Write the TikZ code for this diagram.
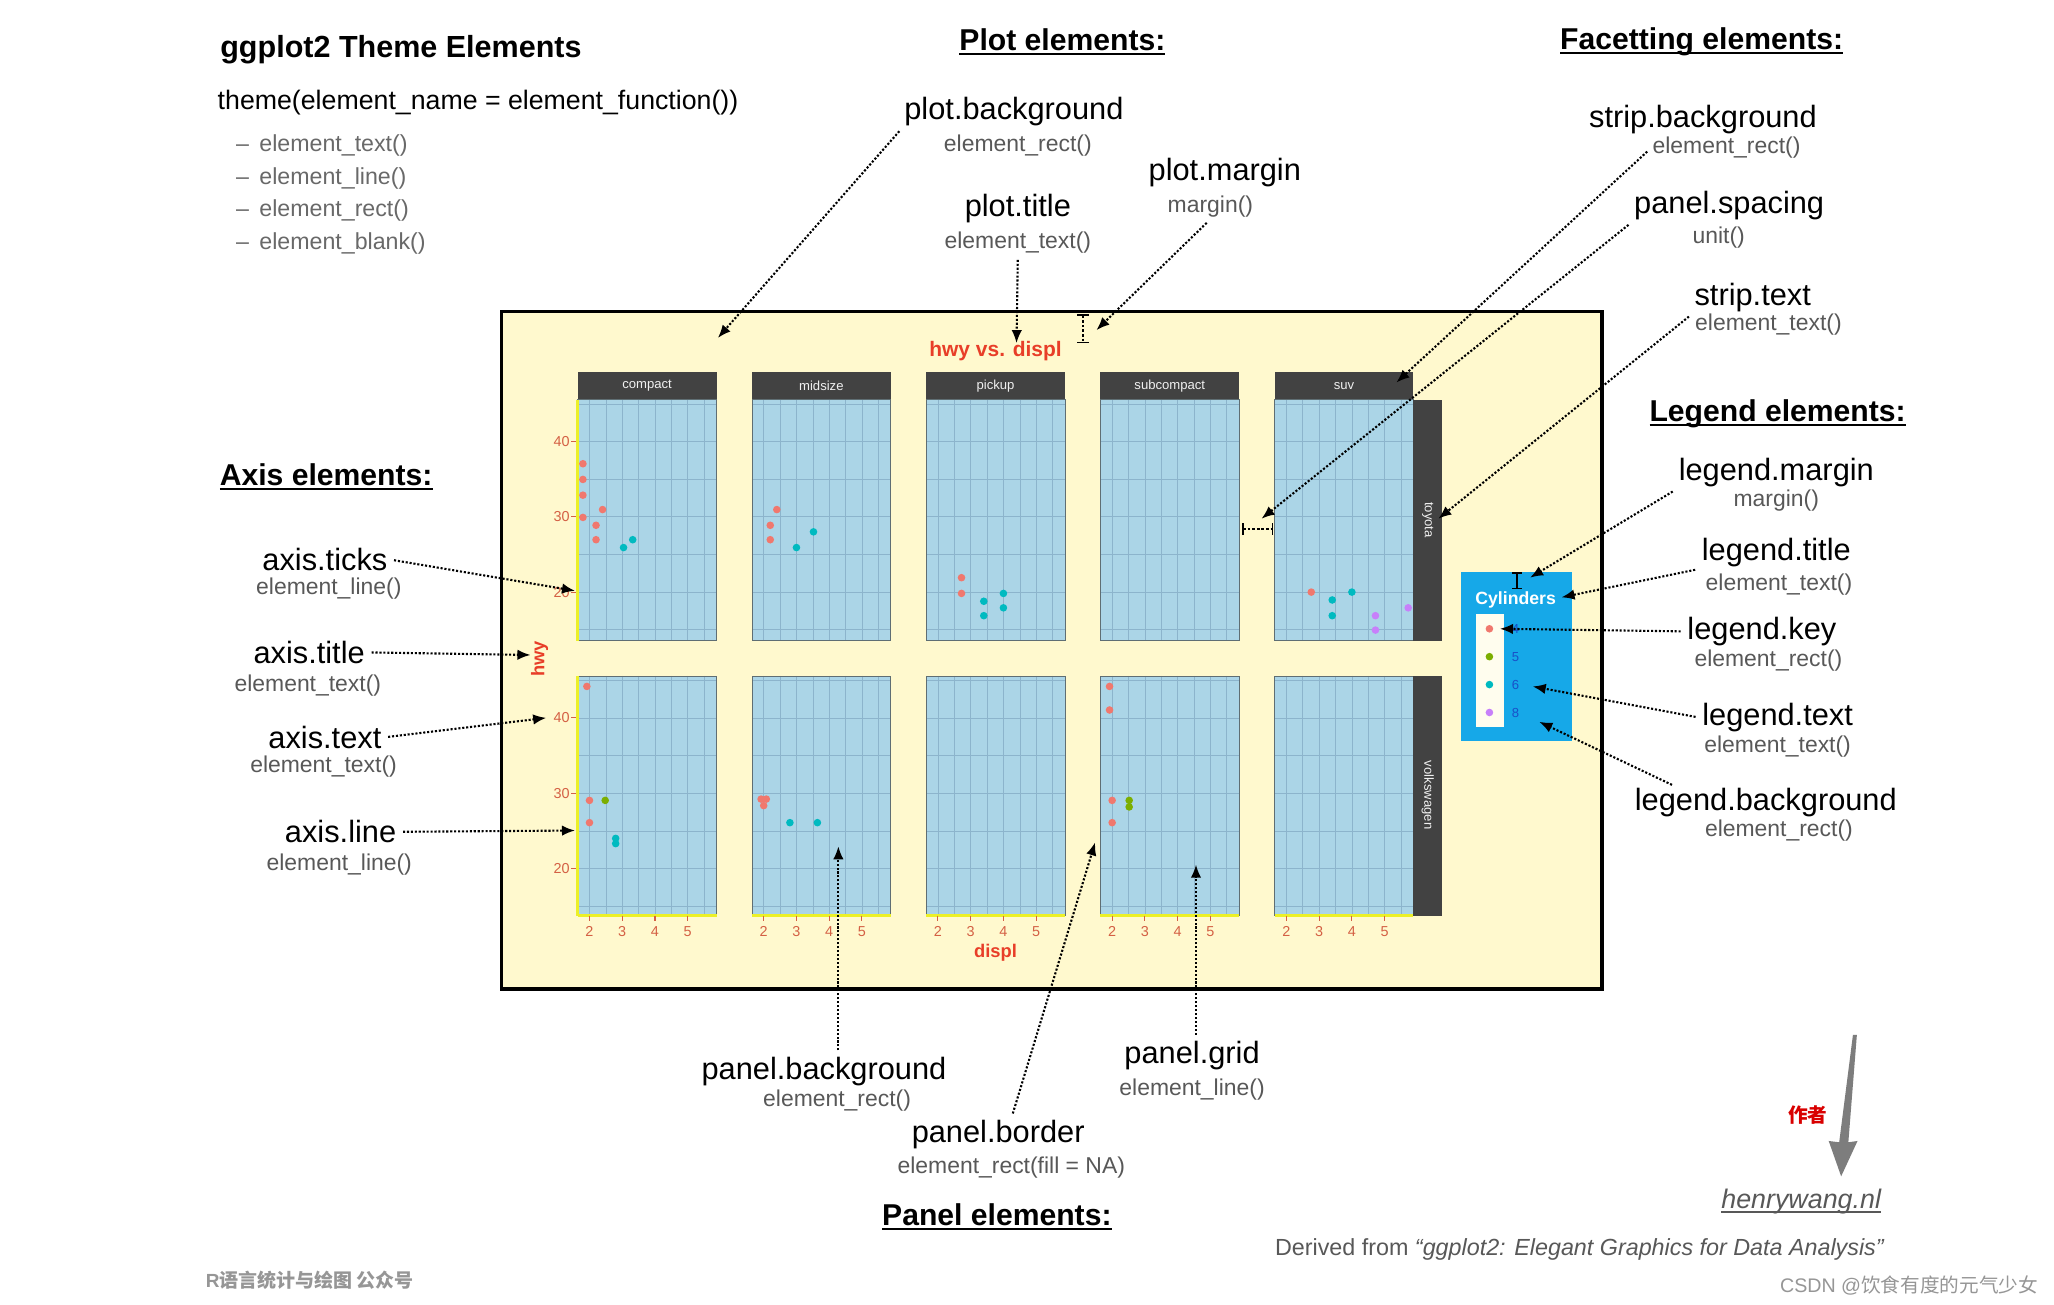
\documentclass[tikz,border=0pt]{standalone}
\usepackage{fontspec}
\setmainfont{Liberation Sans}
\newfontfamily\cjk{Noto Sans CJK SC}
\usepackage{tikz}
\usetikzlibrary{positioning}
\usetikzlibrary{arrows.meta}

\definecolor{plotbg}{RGB}{255,249,206}
\definecolor{panelbg}{RGB}{171,213,231}
\definecolor{gridcol}{RGB}{140,180,204}
\definecolor{panelline}{RGB}{95,110,115}
\definecolor{stripgray}{RGB}{66,66,66}
\definecolor{axyellow}{RGB}{236,240,40}
\definecolor{axtxt}{RGB}{212,96,68}
\definecolor{titlered}{RGB}{232,62,40}
\definecolor{legendblue}{RGB}{22,168,232}
\definecolor{keywhite}{RGB}{255,253,238}
\definecolor{legnum}{RGB}{25,80,200}
\definecolor{cfour}{RGB}{240,120,110}
\definecolor{cfive}{RGB}{124,174,0}
\definecolor{csix}{RGB}{0,186,192}
\definecolor{ceight}{RGB}{199,128,250}
\definecolor{fungray}{RGB}{88,88,88}
\definecolor{listgray}{RGB}{105,105,105}
\definecolor{wmgray}{RGB}{150,150,150}
\definecolor{authgray}{RGB}{125,125,125}

\newcommand\pxsize[1]{\fontsize{#1}{#1}\selectfont}
\newcommand\hdr[2][1.6pt]{\setbox0\hbox{#2}\rlap{\usebox0}\rule[-3.5pt]{\wd0}{#1}}

\begin{document}
\begin{tikzpicture}[x=1pt, y=-1pt]

  \tikzstyle{header}=[font=\bfseries\pxsize{23}, inner sep=1pt]
  \tikzstyle{elname}=[font=\pxsize{23.5}, inner sep=1pt]
  \tikzstyle{elfun}=[font=\pxsize{17.5}, text=fungray, inner sep=1pt]
  \tikzstyle{listitem}=[font=\pxsize{17.7}, text=listgray, anchor=west, inner sep=0pt]
  \tikzstyle{hint}=[-{Latex[length=10pt,width=8pt]}, line width=1.6pt, dash pattern=on 1.6pt off 1.4pt, shorten <=4pt]
  \tikzstyle{gap}=[{Bar[width=9pt]}-{Bar[width=9pt]}, line width=1.3pt, dash pattern=on 2pt off 1.5pt]
  \tikzstyle{gridline}=[gridcol, line width=0.45pt]
  \tikzstyle{striptext}=[font=\pxsize{10}, text=white!88!gray, inner sep=0pt]
  \tikzstyle{axtext}=[font=\pxsize{11}, text=axtxt, inner sep=0pt]
  \tikzstyle{axtick}=[axtxt, line width=0.8pt]
  \tikzstyle{axline}=[axyellow, line width=2.5pt]
  \tikzstyle{axtitle}=[font=\bfseries\pxsize{14}, text=titlered, inner sep=0pt]

  \useasboundingbox (0,0) rectangle (1568,996);
  \fill[white] (0,0) rectangle (1568,996);

  % intro text
  \node[font=\bfseries\pxsize{23.3}, anchor=west, inner sep=0pt] (intro) at (168,38) {ggplot2 Theme Elements};
  \node[font=\pxsize{20.4}, anchor=west, inner sep=0pt] (themecall) at (166,78) {theme(element\_name = element\_function())};
  \foreach \f [count=\k from 0] in {text,line,rect,blank}
    \node[listitem] (fn\f) at (180,111+25*\k) {--\hspace{8pt}element\_\f()};

  % headers
  \node[header] (plotel) at (811,32) {\hdr{Plot elements:}};
  \node[header] (facetel) at (1299,32) {\hdr{Facetting elements:}};
  \node[header] (axisel) at (249,364) {\hdr{Axis elements:}};
  \node[header] (legendel) at (1357,316) {\hdr{Legend elements:}};
  \node[header] (panelel) at (761,929) {\hdr{Panel elements:}};

  % the plot
  \draw[fill=plotbg, line width=2.6pt] (383,238) rectangle (1223,755);
  \node[font=\bfseries\pxsize{16}, text=titlered, inner sep=0pt] (ptitle) at (760,268) {hwy vs. displ};

  \foreach \lab [count=\i from 0] in {compact,midsize,pickup,subcompact,suv} {
    \pgfmathsetmacro\xl{441+133*\i}
    \pgfmathsetmacro\xr{\xl+106}
    \fill[stripgray] (\xl,284) rectangle (\xr,305);
    \node[striptext] at (\xl+53,294.5) {\lab};
    \foreach \yt/\yb/\yf in {305/489/337, 516/699/548} {
      \fill[panelbg] (\xl,\yt) rectangle (\xr,\yb);
      \foreach \d in {0,...,7}
        \draw[gridline] (\xl+9+12.5*\d,\yt) -- (\xl+9+12.5*\d,\yb);
      \foreach \h in {-1,...,5}
        \draw[gridline] (\xl,\yf+28.75*\h) -- (\xr,\yf+28.75*\h);
      \draw[panelline, line width=0.6pt] (\xl,\yt) rectangle (\xr,\yb);
    }
    \draw[axline] (\xl,699) -- (\xr,699);
    \foreach \v [count=\k from 0] in {2,...,5} {
      \draw[axtick] (\xl+9+25*\k,699) -- ++(0,4);
      \node[axtext] at (\xl+9+25*\k,711) {\v};
    }
  }

  % row strips
  \fill[stripgray] (1079,305) rectangle (1101,489);
  \node[striptext, rotate=-90] at (1090,397) {toyota};
  \fill[stripgray] (1079,516) rectangle (1101,699);
  \node[striptext, rotate=-90] at (1090,607) {volkswagen};

  % y axis
  \draw[axline] (441,305) -- (441,489);
  \draw[axline] (441,516) -- (441,699);
  \foreach \yf in {337,548}
    \foreach \v [count=\k from 0] in {40,30,20} {
      \draw[axtick] (436,\yf+57.5*\k) -- (440,\yf+57.5*\k);
      \node[axtext, anchor=east] at (435,\yf+57.5*\k) {\v};
    }
  \node[axtitle, rotate=90] (ytitle) at (412,503) {hwy};
  \node[axtitle] (xtitle) at (760,727) {displ};

  % observations
  \foreach \x/\y in {445/354,445/366,445/378,445/395,460/389,455/401,455/412,
                     593/389,588/401,588/412,734/441,734/453,1001/452,
                     448/524,450/611,450/628,581/610,585/610,583/615,
                     847/524,847/542,849/611,849/628}
    \fill[cfour] (\x,\y) circle (2.9);
  \foreach \x/\y in {462/611,862/611,862/616}
    \fill[cfive] (\x,\y) circle (2.9);
  \foreach \x/\y in {476/418,483/412,608/418,621/406,751/459,751/470,766/453,766/464,
                     1017/458,1017/470,1032/452,470/640,470/644,603/628,624/628}
    \fill[csix] (\x,\y) circle (2.9);
  \foreach \x/\y in {1050/470,1050/481,1075/464}
    \fill[ceight] (\x,\y) circle (2.9);

  % legend
  \fill[legendblue] (1115,437) rectangle (1200,566);
  \fill[keywhite] (1127,469) rectangle (1148,555);
  \node[font=\bfseries\pxsize{13.5}, text=white, inner sep=0pt] (legttl) at (1157,458) {Cylinders};
  \foreach \col/\v [count=\k from 0] in {cfour/4,cfive/5,csix/6,ceight/8} {
    \fill[\col] (1137,480+21.3*\k) circle (2.9);
    \node[font=\pxsize{10}, text=legnum, inner sep=0pt] at (1157,480+21.3*\k) {\v};
  }

  % margins and spacing
  \draw[gap] (827,240) -- (827,262);
  \draw[gap] (948,404) -- (972,404);
  \draw[line width=1pt, {Bar[width=7pt]}-{Bar[width=7pt]}] (1158,437) -- (1158,450);

  % labels
  \node[elname] (pbg) at (774,85) {plot.background};
  \node[elfun] (pbgf) at (777,111) {element\_rect()};
  \node[elname] (ptl) at (777,159) {plot.title};
  \node[elfun] (ptlf) at (777,185) {element\_text()};
  \node[elname] (pmg) at (935,132) {plot.margin};
  \node[elfun] (pmgf) at (924,158) {margin()};
  \node[elname] (sbg) at (1300,91) {strip.background};
  \node[elfun] (sbgf) at (1318,113) {element\_rect()};
  \node[elname] (psp) at (1320,157) {panel.spacing};
  \node[elfun] (pspf) at (1312,181) {unit()};
  \node[elname] (stx) at (1338,227) {strip.text};
  \node[elfun] (stxf) at (1350,248) {element\_text()};
  \node[elname] (lmg) at (1356,361) {legend.margin};
  \node[elfun] (lmgf) at (1356,382) {margin()};
  \node[elname] (ltl) at (1356,422) {legend.title};
  \node[elfun] (ltlf) at (1358,446) {element\_text()};
  \node[elname] (lky) at (1345,482) {legend.key};
  \node[elfun] (lkyf) at (1350,504) {element\_rect()};
  \node[elname] (ltx) at (1357,548) {legend.text};
  \node[elfun] (ltxf) at (1357,570) {element\_text()};
  \node[elname] (lbg) at (1348,613) {legend.background};
  \node[elfun] (lbgf) at (1358,634) {element\_rect()};
  \node[elname] (atk) at (248,427) {axis.ticks};
  \node[elfun] (atkf) at (251,449) {element\_line()};
  \node[elname] (atl) at (236,498) {axis.title};
  \node[elfun] (atlf) at (235,523) {element\_text()};
  \node[elname] (atx) at (248,563) {axis.text};
  \node[elfun] (atxf) at (247,585) {element\_text()};
  \node[elname] (aln) at (260,635) {axis.line};
  \node[elfun] (alnf) at (259,660) {element\_line()};
  \node[elname] (pbk) at (629,818) {panel.background};
  \node[elfun] (pbkf) at (639,840) {element\_rect()};
  \node[elname] (pbd) at (762,866) {panel.border};
  \node[elfun] (pbdf) at (772,891) {element\_rect(fill = NA)};
  \node[elname] (pgd) at (910,806) {panel.grid};
  \node[elfun] (pgdf) at (910,832) {element\_line()};

  % arrow targets
  \coordinate (t-pbg) at (548,258);
  \coordinate (t-ptl) at (776,262);
  \coordinate (t-pmg) at (837,252);
  \coordinate (t-sbg) at (1066,292);
  \coordinate (t-psp) at (963,396);
  \coordinate (t-stx) at (1098,396);
  \coordinate (t-lmg) at (1168,441);
  \coordinate (t-ltl) at (1192,456);
  \coordinate (t-lky) at (1145,480);
  \coordinate (t-ltx) at (1170,524);
  \coordinate (t-lbg) at (1175,551);
  \coordinate (t-atk) at (439,451);
  \coordinate (t-atl) at (405,500);
  \coordinate (t-atx) at (417,548);
  \coordinate (t-aln) at (439,634);
  \coordinate (t-pbk) at (640,646);
  \coordinate (t-pbd) at (836,643);
  \coordinate (t-pgd) at (913,660);

  \path (pbg.south west) edge [hint] (t-pbg)
        (ptlf.south) edge [hint] (t-ptl)
        (pmgf.south) edge [hint] (t-pmg)
        (sbgf.west) edge [hint] (t-sbg)
        (psp.south west) edge [hint] (t-psp)
        (stx.south west) edge [hint] (t-stx)
        (lmg.south west) edge [hint] (t-lmg)
        (ltl.south west) edge [hint] (t-ltl)
        (lky.west) edge [hint] (t-lky)
        (ltx.west) edge [hint] (t-ltx)
        ([xshift=-68pt]lbg.north) edge [hint] (t-lbg)
        (atk.east) edge [hint] (t-atk)
        (atl.east) edge [hint] (t-atl)
        (atx.east) edge [hint] (t-atx)
        (aln.east) edge [hint] (t-aln)
        ([xshift=11pt]pbk.north) edge [hint] (t-pbk)
        ([xshift=10pt]pbd.north) edge [hint] (t-pbd)
        ([xshift=3pt]pgd.north) edge [hint] (t-pgd);

  % credits
  \node[font=\itshape\pxsize{20.5}, text=fungray, inner sep=0pt] (web) at (1375,917) {\hdr[1.3pt]{henrywang.nl}};
  \coordinate (authtop) at (1416,790);
  \fill[authgray] (authtop) ++(-1.5,0) -- ++(3,0) -- (1411,872) -- (1418,871)
        -- (1405.5,898) -- (1396,871) -- (1404,872) -- cycle;
  \node[font=\cjk\bfseries\pxsize{15}, text=red!85!black, inner sep=0pt] (auth) at (1380,851) {作者};
  \node[font=\pxsize{17.8}, text=fungray, inner sep=0pt] (src) at (1206,954)
    {Derived from \textit{``ggplot2: Elegant Graphics for Data Analysis''}};
  \node[font=\pxsize{15}, text=wmgray, anchor=east, inner sep=0pt] (csdn) at (1556,981) {CSDN @{\cjk 饮食有度的元气少女}};
  \node[font=\bfseries\pxsize{14.5}, text=wmgray, anchor=west, inner sep=0pt] (wx) at (157,977) {R{\cjk\bfseries 语言统计与绘图 公众号}};

\end{tikzpicture}
\end{document}
